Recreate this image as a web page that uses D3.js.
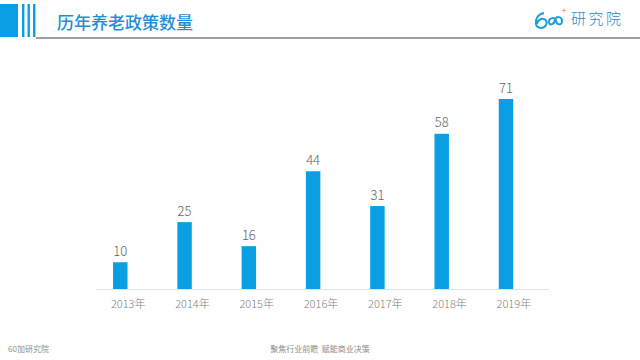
<!DOCTYPE html>
<html>
<head>
<meta charset="utf-8">
<script src="https://cdn.jsdelivr.net/npm/d3@7"></script>
<style>
  body { margin: 0; background: #fff; }
  svg { display: block; font-family: "Noto Sans CJK SC", "Noto Sans", sans-serif; }
</style>
</head>
<body>
<div id="chart"></div>
<script>
// data
const years = ["2013年", "2014年", "2015年", "2016年", "2017年", "2018年", "2019年"];
const counts = [10, 25, 16, 44, 31, 58, 71];

const title = "历年养老政策数量";
const footerLeft = "60加研究院";
const footerCenter = "聚焦行业前瞻  赋能商业决策";

const width = 640, height = 360;
const blue = "#0a9fe4";

const svg = d3.select("#chart").append("svg")
  .attr("width", width)
  .attr("height", height);

// header: block + stripes + grey rule
const header = svg.append("g").attr("class", "header");
header.append("rect").attr("x", 0).attr("y", 4).attr("width", 18).attr("height", 33).attr("fill", blue);
[22, 27.5, 33].forEach(x => {
  header.append("rect").attr("x", x).attr("y", 4).attr("width", 2.4).attr("height", 33).attr("fill", blue);
});
header.append("rect").attr("x", 36).attr("y", 37).attr("width", width - 36).attr("height", 2).attr("fill", "#a0a0a0");

header.append("text")
  .attr("x", 57)
  .attr("y", 29)
  .attr("fill", "#1e8fd6")
  .attr("font-size", 17)
  .attr("font-weight", 500)
  .text(title);

// logo
const logo = svg.append("g").attr("class", "logo");
logo.append("path")
  .attr("d", "M544,13 C538,14 535,19 536,24 C537,29 544,29 546,25 C548,21 545,18 541,19 C539,20 537,22 537,24")
  .attr("fill", "none").attr("stroke", "#1aa0dc").attr("stroke-width", 2);
logo.append("path")
  .attr("d", "M549,22 C549,17 555,17 556,21 C557,25 562,26 562,21 C562,16 556,16 555,20 C554,25 549,26 549,22 Z")
  .attr("fill", "none").attr("stroke", "#1aa0dc").attr("stroke-width", 2);
logo.append("text")
  .attr("x", 564).attr("y", 13)
  .attr("text-anchor", "middle")
  .attr("fill", "#f5a623")
  .attr("font-size", 8)
  .attr("font-weight", 700)
  .text("+");
logo.append("text")
  .attr("x", 571)
  .attr("y", 24)
  .attr("fill", "#2b86c9")
  .attr("font-size", 15)
  .attr("font-weight", 300)
  .attr("letter-spacing", 2.5)
  .text("研究院");

// scales
const x = d3.scaleBand()
  .domain(years)
  .range([96, 546])
  .padding(0);

const y = d3.scaleLinear()
  .domain([0, 71])
  .range([289, 99]);

const barOffset = x.step() * 0.265;
const barWidth = x.step() * 0.225;

const data = years.map((d, i) => ({ year: d, value: counts[i] }));

// axis
const xAxis = d3.axisBottom(x).tickSize(0).tickPadding(11);
const axisG = svg.append("g")
  .attr("class", "axis x-axis")
  .attr("transform", `translate(0,${y(0)})`)
  .call(xAxis);
axisG.select(".domain").remove();
axisG.append("line")
  .attr("x1", 96).attr("x2", 549)
  .attr("y1", 0.5).attr("y2", 0.5)
  .attr("stroke", "#dfe3e8");
axisG.selectAll(".tick text")
  .attr("fill", "#808080")
  .attr("font-size", 11)
  .attr("font-weight", 300)
  .attr("font-family", "\"Noto Sans CJK SC\", sans-serif");

// bars
svg.append("g")
  .attr("class", "bars")
  .selectAll("rect")
  .data(data)
  .join("rect")
  .attr("x", d => x(d.year) + barOffset)
  .attr("y", d => y(d.value))
  .attr("width", barWidth)
  .attr("height", d => y(0) - y(d.value))
  .attr("fill", blue);

// value labels
svg.append("g")
  .attr("class", "labels")
  .selectAll("text")
  .data(data)
  .join("text")
  .attr("x", d => x(d.year) + barOffset + barWidth / 2)
  .attr("y", d => y(d.value) - 6.5)
  .attr("text-anchor", "middle")
  .attr("fill", "#646464")
  .attr("font-size", 13)
  .attr("font-weight", 300)
  .text(d => d.value);

// footer
svg.append("text")
  .attr("x", 8).attr("y", 352)
  .attr("fill", "#8c8c8c")
  .attr("font-size", 8)
  .text(footerLeft);
svg.append("text")
  .attr("x", 320).attr("y", 352)
  .attr("text-anchor", "middle")
  .attr("fill", "#8c8c8c")
  .attr("font-size", 8)
  .attr("xml:space", "preserve")
  .style("white-space", "pre")
  .text(footerCenter);
</script>
</body>
</html>
